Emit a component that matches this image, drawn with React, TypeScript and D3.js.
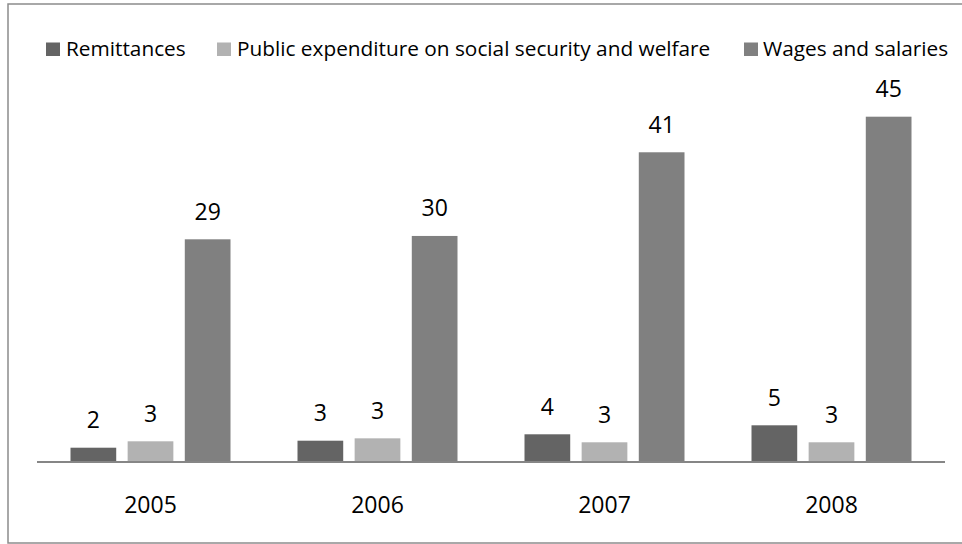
import React from "react";
import * as d3 from "d3";

const years = ["2005", "2006", "2007", "2008"];
const seriesNames = [
  "Remittances",
  "Public expenditure on social security and welfare",
  "Wages and salaries",
];
const remittances = [1.81, 2.73, 3.57, 4.75];
const publicExpenditure = [2.65, 3.04, 2.52, 2.52];
const wagesSalaries = [29.16, 29.6, 40.58, 45.25];
const seriesColors = ["#646464", "#b2b2b2", "#808080"];

const W = 962;
const H = 544;
const plotLeft = 37;
const plotRight = 945;
const baseY = 461.5;
const FONT = "'Open Sans', 'Noto Sans', sans-serif";

export default function App() {
  const series = [remittances, publicExpenditure, wagesSalaries];
  const x0 = d3
    .scaleBand<string>()
    .domain(years)
    .range([plotLeft, plotRight])
    .paddingInner(0)
    .paddingOuter(0);
  const x1 = d3
    .scaleBand<number>()
    .domain([0, 1, 2])
    .range([33.5, x0.bandwidth() - 33.5])
    .paddingInner(0.2)
    .paddingOuter(0);
  const y = d3.scaleLinear().domain([0, 50]).range([baseY, baseY - 381]);
  const fmt = d3.format(".0f");

  const legendSwatchX = [46, 217, 744];
  const legendTextX = [66, 237, 763];

  return (
    <svg
      width={W}
      height={H}
      style={{ position: "absolute", left: 0, top: 0, background: "#fff" }}
    >
      <rect x={8} y={4} width={970} height={539} fill="#fff" stroke="#8c8c8c" strokeWidth={1.5} />
      {seriesNames.map((name, i) => (
        <g key={name}>
          <rect x={legendSwatchX[i]} y={42.5} width={14} height={13.5} fill={seriesColors[i]} />
          <text x={legendTextX[i]} y={56} fontFamily={FONT} fontSize={20.8} fill="#000">
            {name}
          </text>
        </g>
      ))}
      {years.map((yr, ci) => (
        <g key={yr} transform={`translate(${x0(yr)},0)`}>
          {series.map((vals, si) => {
            const v = vals[ci];
            const bx = x1(si)!;
            const bw = x1.bandwidth();
            return (
              <g key={si}>
                <rect x={bx} y={y(v)} width={bw} height={baseY - y(v)} fill={seriesColors[si]} />
                <text
                  x={bx + bw / 2}
                  y={y(v) - 19.5}
                  textAnchor="middle"
                  fontFamily={FONT}
                  fontSize={23}
                  fill="#000"
                >
                  {fmt(v)}
                </text>
              </g>
            );
          })}
          <text
            x={x0.bandwidth() / 2}
            y={513}
            textAnchor="middle"
            fontFamily={FONT}
            fontSize={23}
            fill="#000"
          >
            {yr}
          </text>
        </g>
      ))}
      <line x1={plotLeft} x2={plotRight} y1={baseY + 0.5} y2={baseY + 0.5} stroke="#868686" strokeWidth={2} />
    </svg>
  );
}
